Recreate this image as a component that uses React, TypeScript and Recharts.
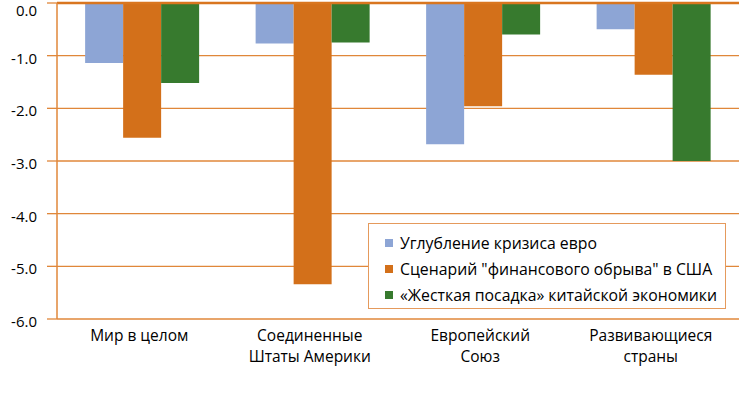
import React from 'react';
import { BarChart, Bar, XAxis, YAxis, CartesianGrid, ReferenceLine } from 'recharts';

const categories = ['Мир в целом', 'Соединенные\nШтаты Америки', 'Европейский\nСоюз', 'Развивающиеся\nстраны'];
const euroCrisis = [-1.14, -0.77, -2.68, -0.5];
const usFiscalCliff = [-2.56, -5.34, -1.96, -1.36];
const chinaHardLanding = [-1.52, -0.75, -0.6, -3.0];
const seriesNames = [
  'Углубление кризиса евро',
  'Сценарий "финансового обрыва" в США',
  '«Жесткая посадка» китайской экономики',
];
const yTicks = [0, -1, -2, -3, -4, -5, -6];
const boundaryTicks = [1, 2, 3];

const colors = ['#8DA5D5', '#D3701A', '#377A2E'];
const axisColor = '#E0873A';
const font = '"Open Sans", sans-serif';

const data = categories.map((c, i) => ({
  name: c,
  euro: euroCrisis[i],
  us: usFiscalCliff[i],
  china: chinaHardLanding[i],
}));

const XTick = (props: any) => {
  const { x, y, payload } = props;
  const lines = String(payload.value).split('\n');
  return (
    <text x={x - 3} y={y} textAnchor="middle" fill="#000" fontSize={15.5} fontFamily={font}>
      {lines.map((l, i) => (
        <tspan key={i} x={x - 3} dy={i === 0 ? 14 : 21}>
          {l}
        </tspan>
      ))}
    </text>
  );
};

const YTick = (props: any) => {
  const { x, y, payload } = props;
  const yy = Math.max(y + 2, 10);
  return (
    <text x={x} y={yy} textAnchor="end" dominantBaseline="central" fill="#000" fontSize={15} fontFamily={font}>
      {Number(payload.value).toFixed(1)}
    </text>
  );
};

const LegendBox = () => (
  <div
    style={{
      position: 'absolute',
      left: 368,
      top: 223,
      border: '1px solid #E59A5C',
      width: 356,
      height: 78,
      background: '#fff',
      fontFamily: font,
      fontSize: 15.8,
      color: '#000',
      paddingTop: 6,
    }}
  >
    {seriesNames.map((n, i) => (
      <div key={i} style={{ display: 'flex', alignItems: 'center', height: 26, paddingLeft: 16 }}>
        <span style={{ display: 'inline-block', width: 8, height: 8, background: colors[i], marginRight: 7 }} />
        <span style={{ whiteSpace: 'nowrap' }}>{n}</span>
      </div>
    ))}
  </div>
);

export default function App() {
  return (
    <div style={{ position: 'absolute', left: 0, top: 0, width: 739, height: 399, background: '#fff' }}>
      <BarChart
        width={739}
        height={399}
        data={data}
        margin={{ top: 3, right: 0, left: 0, bottom: 0 }}
        barCategoryGap="16.5%"
        barGap={0}
      >
        <CartesianGrid vertical={false} horizontal stroke={axisColor} strokeWidth={1.3} />
        <XAxis
          dataKey="name"
          xAxisId="cat"
          axisLine={false}
          tickLine={false}
          tick={<XTick />}
          interval={0}
          height={80}
        />
        <XAxis
          xAxisId="bound"
          type="number"
          orientation="top"
          domain={[0, 4]}
          ticks={boundaryTicks}
          height={0}
          axisLine={false}
          tickLine={{ stroke: axisColor, strokeWidth: 1.3 }}
          tickSize={-6}
          tick={() => null}
        />
        <YAxis
          domain={[-6, 0]}
          ticks={yTicks}
          interval={0}
          width={57}
          axisLine={{ stroke: axisColor, strokeWidth: 1.5 }}
          tickLine={{ stroke: axisColor, strokeWidth: 1.3 }}
          tickSize={10}
          tickMargin={10}
          tick={<YTick />}
        />
        <ReferenceLine xAxisId="bound" x={4} stroke="#F0C29A" strokeWidth={1.5} />
        <Bar xAxisId="cat" dataKey="euro" fill={colors[0]} isAnimationActive={false} />
        <Bar xAxisId="cat" dataKey="us" fill={colors[1]} isAnimationActive={false} />
        <Bar xAxisId="cat" dataKey="china" fill={colors[2]} isAnimationActive={false} />
        <ReferenceLine xAxisId="bound" y={0} stroke="#D9761F" strokeWidth={2.5} />
      </BarChart>
      <LegendBox />
    </div>
  );
}
